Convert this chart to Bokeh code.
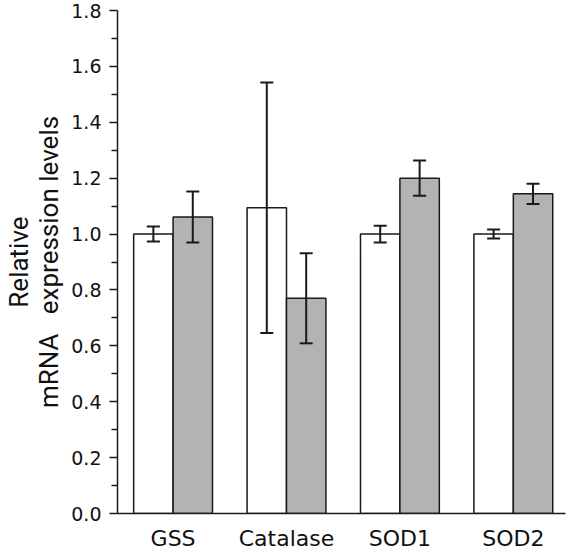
import numpy as np
from bokeh.plotting import figure
from bokeh.models import (Range1d, FixedTicker, PrintfTickFormatter, ColumnDataSource,
                          Whisker, TeeHead)
from bokeh.embed import file_html
from bokeh.resources import INLINE

# ---- data ----
categories = ["GSS", "Catalase", "SOD1", "SOD2"]
control_values = [1.00, 1.094, 1.00, 1.00]
control_errors = [0.027, 0.448, 0.030, 0.016]
treated_values = [1.061, 0.770, 1.200, 1.144]
treated_errors = [0.091, 0.161, 0.063, 0.036]
y_ticks = [0.0, 0.2, 0.4, 0.6, 0.8, 1.0, 1.2, 1.4, 1.6, 1.8]
y_minor_ticks = [0.1, 0.3, 0.5, 0.7, 0.9, 1.1, 1.3, 1.5, 1.7]

# ---- layout ----
bar_w = 0.3475
idx = np.arange(len(categories))
x_ctrl = idx - bar_w / 2
x_trt = idx + bar_w / 2

p = figure(width=572, height=553, output_backend="svg", toolbar_location=None,
           x_range=Range1d(-0.49, 3.46), y_range=Range1d(0, 1.8),
           min_border_left=116, min_border_right=7, min_border_top=10,
           min_border_bottom=38)
p.outline_line_color = None
p.xgrid.visible = False
p.ygrid.visible = False
p.background_fill_color = "white"
p.border_fill_color = "white"

edge = "#1a1a1a"
p.vbar(x=x_ctrl, top=control_values, width=bar_w, bottom=0,
       fill_color="white", line_color=edge, line_width=1.5)
p.vbar(x=x_trt, top=treated_values, width=bar_w, bottom=0,
       fill_color="#b3b3b3", line_color=edge, line_width=1.5)

for xs, vals, errs in [(x_ctrl, control_values, control_errors),
                       (x_trt, treated_values, treated_errors)]:
    v = np.array(vals)
    e = np.array(errs)
    src = ColumnDataSource(dict(base=xs, upper=v + e, lower=v - e))
    w = Whisker(base="base", upper="upper", lower="lower", source=src,
                level="overlay",
                line_color=edge, line_width=2,
                upper_head=TeeHead(size=13, line_color=edge, line_width=2),
                lower_head=TeeHead(size=13, line_color=edge, line_width=2))
    p.add_layout(w)

# y axis
ya = p.yaxis[0]
ya.ticker = FixedTicker(ticks=y_ticks, minor_ticks=y_minor_ticks)
ya.formatter = PrintfTickFormatter(format="%.1f")
ya.major_tick_out = 8
ya.major_tick_in = 0
ya.minor_tick_out = 6
ya.minor_tick_in = 0
ya.major_tick_line_width = 1.5
ya.minor_tick_line_width = 1.5
ya.axis_line_width = 1.5
ya.axis_line_color = edge
ya.major_tick_line_color = edge
ya.minor_tick_line_color = edge
ya.major_label_text_font = "DejaVu Sans"
ya.major_label_text_font_size = "19px"
ya.major_label_text_color = "#111111"
ya.major_label_standoff = 8
ya.axis_label = "Relative\nmRNA" + "\u00a0" * 3 + "expression levels"
ya.axis_label_text_font = "Roboto"
ya.axis_label_text_font_size = "26px"
ya.axis_label_text_font_style = "normal"
ya.axis_label_text_color = "#111111"
ya.axis_label_text_line_height = 1.02
ya.axis_label_standoff = 4

# x axis
xa = p.xaxis[0]
xa.ticker = FixedTicker(ticks=list(idx), minor_ticks=[])
xa.major_label_overrides = {int(i): c for i, c in zip(idx, categories)}
xa.major_tick_out = 0
xa.major_tick_in = 0
xa.minor_tick_out = 0
xa.minor_tick_in = 0
xa.axis_line_width = 1.5
xa.axis_line_color = edge
xa.major_label_text_font = "DejaVu Sans"
xa.major_label_text_font_size = "22px"
xa.major_label_text_color = "#111111"
xa.major_label_standoff = 12

open("out.html", "w").write(file_html(p, INLINE))
